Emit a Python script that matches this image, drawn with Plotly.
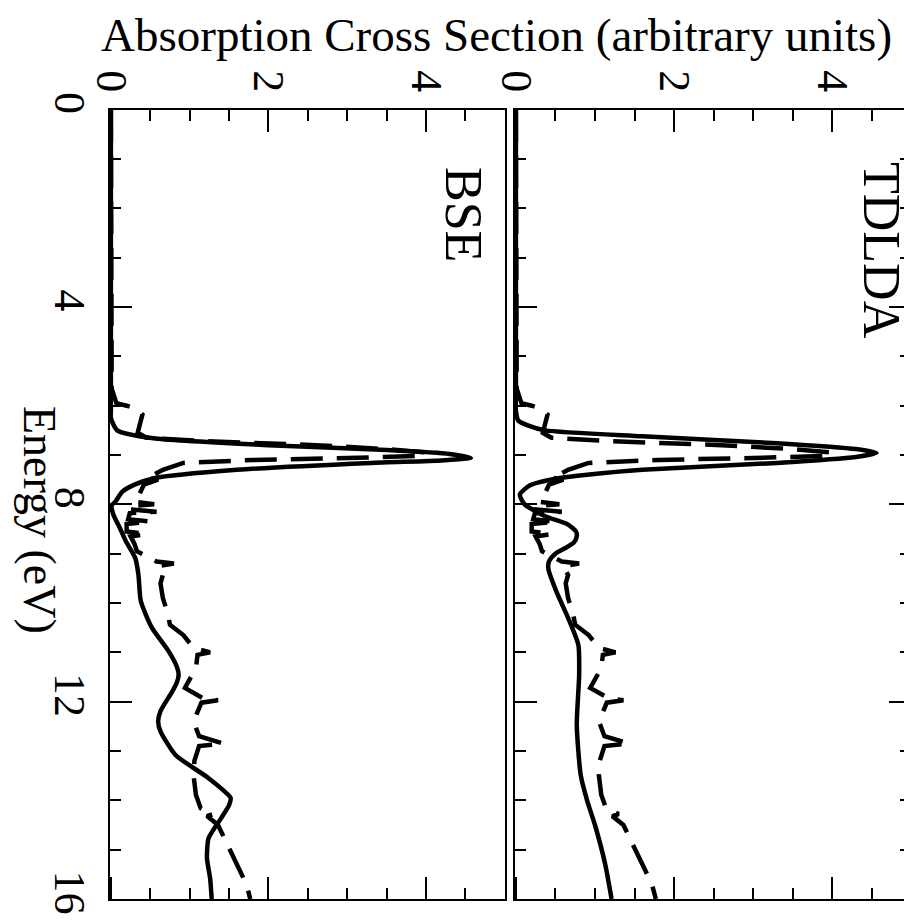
import plotly.graph_objects as go

# ---------------- data ----------------
energy_ticks = [0, 4, 8, 12, 16]
abs_ticks = [0, 2, 4]

tdlda_E = [0.0, 5.8, 6.1, 6.3, 6.4, 6.5, 6.62, 6.76, 6.88, 6.96, 7.04, 7.16, 7.3, 7.4, 7.47,
           7.55, 7.63, 7.8, 8.0, 8.24, 8.41, 8.55, 8.65, 8.78, 8.89, 9.0, 9.15, 9.3, 9.76,
           10.3, 10.85, 11.46, 12.47, 13.49, 14.0, 14.5, 15.3, 16.0]
tdlda_A = [0.0, 0.0, 0.0, 0.03, 0.15, 0.37, 1.6, 3.3, 4.3, 4.56, 4.3, 3.3, 1.6, 0.9, 0.54,
           0.3, 0.16, 0.05, 0.11, 0.37, 0.66, 0.76, 0.77, 0.73, 0.62, 0.5, 0.42, 0.41, 0.51,
           0.66, 0.79, 0.8, 0.77, 0.82, 0.9, 1.0, 1.13, 1.21]

bse_E = [0.0, 6.1, 6.25, 6.5, 6.66, 6.8, 6.9, 6.98, 7.06, 7.11, 7.16, 7.3, 7.47, 7.6, 7.75,
         7.94, 8.02, 8.2, 8.5, 8.75, 9.09, 9.43, 9.96, 10.5, 10.97, 11.3, 11.46, 11.6, 11.79,
         12.19, 12.4, 12.6, 13.08, 13.55, 13.95, 14.1, 14.36, 14.77, 15.17, 15.58, 16.0]
bse_A = [0.0, 0.0, 0.0, 0.08, 0.54, 2.0, 3.5, 4.3, 4.57, 4.2, 3.3, 1.6, 0.55, 0.3, 0.14,
         0.06, 0.01, 0.03, 0.12, 0.19, 0.31, 0.35, 0.38, 0.52, 0.73, 0.84, 0.86, 0.84, 0.78,
         0.63, 0.6, 0.63, 0.82, 1.24, 1.52, 1.5, 1.4, 1.24, 1.22, 1.26, 1.28]

exp_E = [0.0, 5.5, 5.65, 5.8, 5.95, 6.0, 6.05, 6.18, 6.28, 6.38, 6.55, 6.65, 6.72, 6.8, 6.88,
         6.95, 7.02, 7.06, 7.1, 7.16, 7.3, 7.42, 7.46, 7.5, 7.6, 7.8, 7.87, 7.95, 8.0, 8.03,
         8.1, 8.15, 8.18, 8.3, 8.35, 8.4, 8.55, 8.6, 8.65, 8.8, 8.95, 9.1, 9.16, 9.2, 9.25,
         9.43, 9.6, 9.9, 10.2, 10.44, 10.65, 10.91, 11.0, 11.05, 11.32, 11.72, 11.93, 11.97,
         12.02, 12.4, 12.7, 12.85, 12.9, 13.2, 13.5, 13.89, 14.16, 14.28, 14.32, 14.5, 14.9,
         15.3, 15.7, 16.0]
exp_A = [0.0, 0.0, 0.01, 0.04, 0.07, 0.2, 0.3, 0.4, 0.38, 0.36, 0.34, 0.45, 1.2, 2.6, 3.5,
         4.0, 3.9, 3.0, 1.8, 0.92, 0.66, 0.52, 0.45, 0.6, 0.42, 0.36, 0.33, 0.3, 0.55, 0.28,
         0.22, 0.58, 0.24, 0.22, 0.5, 0.2, 0.2, 0.45, 0.25, 0.3, 0.33, 0.5, 0.58, 0.8, 0.6,
         0.66, 0.63, 0.66, 0.72, 0.75, 0.92, 1.05, 1.26, 1.1, 1.08, 0.94, 1.17, 1.36,
         1.15, 1.05, 1.12, 1.43, 1.12, 1.06, 1.05, 1.08, 1.14, 1.3, 1.22, 1.36, 1.48,
         1.6, 1.72, 1.77]

panel_labels = ["BSE", "TDLDA"]
title_text = "Absorption Cross Section (arbitrary units)"
energy_title = "Energy (eV)"

# ---------------- figure ----------------
FONT = "Liberation Serif"
W, H = 912, 922

fig = go.Figure()
solid = dict(color="black", width=4.5, shape="spline", smoothing=0.6)
dashed = dict(color="black", width=4.5, dash="32px,14px")

fig.add_trace(go.Scatter(x=bse_A, y=bse_E, mode="lines", line=solid, xaxis="x", yaxis="y"))
fig.add_trace(go.Scatter(x=exp_A, y=exp_E, mode="lines", line=dashed, xaxis="x", yaxis="y"))
fig.add_trace(go.Scatter(x=tdlda_A, y=tdlda_E, mode="lines", line=solid, xaxis="x2", yaxis="y2"))
fig.add_trace(go.Scatter(x=exp_A, y=exp_E, mode="lines", line=dashed, xaxis="x2", yaxis="y2"))

ydom = [1 - 891 / H, 1 - 101.7 / H]
xdom1 = [101.7 / W, 496.7 / W]
xdom2 = [506.7 / W, 903.3 / W]

tickfont = dict(family=FONT, size=44, color="black")

def xax(dom, anchor):
    return dict(domain=dom, anchor=anchor, range=[-0.015, 5.0], side="top", automargin=False,
                tickvals=abs_ticks, ticktext=[str(v) for v in abs_ticks],
                ticks="inside", ticklen=22, tickwidth=2, tickcolor="black",
                minor=dict(dtick=0.5, tick0=0, ticks="inside", ticklen=11, tickwidth=2, tickcolor="black"),
                showline=True, linewidth=2, linecolor="black", mirror="allticks",
                showgrid=False, zeroline=False, tickangle=90, tickfont=tickfont)

def yax(anchor, labels, mirror):
    return dict(domain=ydom, anchor=anchor, range=[16, 0], automargin=False,
                tickvals=energy_ticks, ticktext=[str(v) for v in energy_ticks],
                showticklabels=labels,
                ticks="inside", ticklen=22, tickwidth=2, tickcolor="black",
                minor=dict(dtick=1, tick0=0, ticks="inside", ticklen=11, tickwidth=2, tickcolor="black"),
                showline=True, linewidth=2, linecolor="black", mirror=mirror,
                showgrid=False, zeroline=False, tickangle=90, tickfont=tickfont)

fig.update_layout(
    width=W, height=H, margin=dict(l=0, r=0, t=0, b=0, autoexpand=False),
    paper_bgcolor="white", plot_bgcolor="white", showlegend=False,
    xaxis=xax(xdom1, "y"), yaxis=yax("x", True, True),
    xaxis2=xax(xdom2, "y2"), yaxis2=yax("x2", False, "allticks"),
    annotations=[
        dict(text=title_text, x=488 / W, y=1 - 27 / H, xref="paper", yref="paper",
             showarrow=False, font=dict(family=FONT, size=47, color="black"),
             xanchor="center", yanchor="middle"),
        dict(text=energy_title, x=32 / W, y=1 - 512 / H, xref="paper", yref="paper",
             showarrow=False, textangle=90, font=dict(family=FONT, size=46, color="black"),
             xanchor="center", yanchor="middle"),
        dict(text=panel_labels[1], x=874 / W, y=1 - 242 / H, xref="paper", yref="paper",
             showarrow=False, textangle=90, font=dict(family=FONT, size=52, color="black"),
             xanchor="center", yanchor="middle"),
        dict(text=panel_labels[0], x=456 / W, y=1 - 206 / H, xref="paper", yref="paper",
             showarrow=False, textangle=90, font=dict(family=FONT, size=52, color="black"),
             xanchor="center", yanchor="middle"),
    ],
)

fig.write_html("out.html")
